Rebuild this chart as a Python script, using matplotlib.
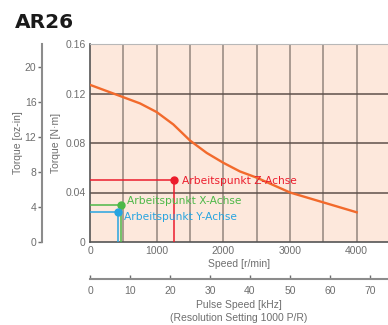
import matplotlib.pyplot as plt

# pull-out torque curve
speed = [0, 250, 500, 750, 1000, 1250, 1500, 1750, 2000, 2250, 2500,
         2750, 3000, 3250, 3500, 3750, 4000]
torque = [0.127, 0.122, 0.117, 0.112, 0.105, 0.095, 0.082, 0.072, 0.064,
          0.057, 0.052, 0.046, 0.040, 0.036, 0.032, 0.028, 0.024]

# operating points
op_names = ['Arbeitspunkt Z-Achse', 'Arbeitspunkt X-Achse', 'Arbeitspunkt Y-Achse']
op_speed = [1265, 465, 415]
op_torque = [0.050, 0.030, 0.0245]
op_colors = ['#ec1c2c', '#4db848', '#27a4e0']

speed_ticks = [0, 1000, 2000, 3000, 4000]
grid_speed = [500, 1000, 1500, 2000, 2500, 3000, 3500, 4000]
nm_ticks = [0, 0.04, 0.08, 0.12, 0.16]
ozin_ticks = [0, 4, 8, 12, 16, 20]
khz_ticks = [0, 10, 20, 30, 40, 50, 60, 70]

NM_TO_OZIN = 141.6
narrow = ['Liberation Sans Narrow', 'Liberation Sans', 'DejaVu Sans']
plt.rcParams['font.family'] = narrow
plt.rcParams['font.size'] = 7.5
grey = '#6e6e6e'

fig = plt.figure(figsize=(3.88, 3.25), dpi=100)
ax = fig.add_axes([90 / 388, 83 / 325, 298 / 388, 198 / 325])
ax.set_facecolor('#fde8dc')
ax.set_xlim(0, 4470)
ax.set_ylim(0, 0.16)

for x in grid_speed:
    ax.axvline(x, color='#a3948c', lw=1.3, zorder=1)
for y in nm_ticks[1:-1]:
    ax.axhline(y, color='#5e504a', lw=1.1, zorder=1)

ax.plot(speed, torque, color='#f26a2c', lw=1.7, zorder=3,
        solid_joinstyle='round')

# label offsets in points (layout only)
offsets = [(5.5, -0.5), (4.3, 2.8), (4.3, -3.8)]
for name, s, t, c, off in zip(op_names, op_speed, op_torque, op_colors, offsets):
    ax.plot([0, s], [t, t], color=c, lw=1.1, zorder=4)
    ax.plot([s, s], [0, t], color=c, lw=1.1, zorder=4)
    ax.plot(s, t, 'o', color=c, ms=5, zorder=5)
    ax.annotate(name, (s, t), xytext=off, textcoords='offset points',
                color=c, fontsize=7.7, family='DejaVu Sans', va='center', zorder=6)

ax.spines['right'].set_visible(False)
ax.spines['top'].set_color('#b8b8b8')
ax.spines['left'].set_color('#555555')
ax.spines['bottom'].set_color('#555555')
ax.spines['left'].set_linewidth(1.2)
ax.spines['bottom'].set_linewidth(1.2)

ax.set_xticks(speed_ticks)
ax.set_yticks(nm_ticks)
ax.set_yticklabels(['0', '0.04', '0.08', '0.12', '0.16'])
ax.tick_params(length=0, colors=grey, labelsize=7.5)
ax.tick_params(axis='x', pad=3)
ax.tick_params(axis='y', pad=3)
ax.set_xlabel('Speed [r/min]', color=grey, labelpad=2)
ax.set_ylabel('Torque [N·m]', color=grey, labelpad=3)

# oz-in scale on the far left
sec_y = ax.secondary_yaxis(-48 / 298, functions=(lambda v: v * NM_TO_OZIN,
                                                  lambda v: v / NM_TO_OZIN))
sec_y.set_yticks(ozin_ticks)
sec_y.spines['left'].set_color('#8c8c8c')
sec_y.spines['left'].set_linewidth(1.5)
sec_y.tick_params(direction='out', length=3, width=1, colors=grey, pad=1)
sec_y.set_ylabel('Torque [oz-in]', color=grey, labelpad=1)

# pulse speed scale below
sec_x = ax.secondary_xaxis(-37 / 198, functions=(lambda r: r / 60,
                                                  lambda k: k * 60))
sec_x.set_xticks(khz_ticks)
sec_x.spines['bottom'].set_color('#8c8c8c')
sec_x.spines['bottom'].set_linewidth(1.5)
sec_x.tick_params(direction='in', length=3, width=1, colors=grey, pad=5)
sec_x.set_xlabel('Pulse Speed [kHz]\n(Resolution Setting 1000 P/R)',
                 color=grey, labelpad=3, linespacing=1.3)

fig.text(15 / 388, 1 - 22 / 325, 'AR26', fontsize=14.5, fontweight='heavy',
         family='DejaVu Sans', color='#1a1a1a', va='center')

fig.savefig('out.png', dpi=100)
